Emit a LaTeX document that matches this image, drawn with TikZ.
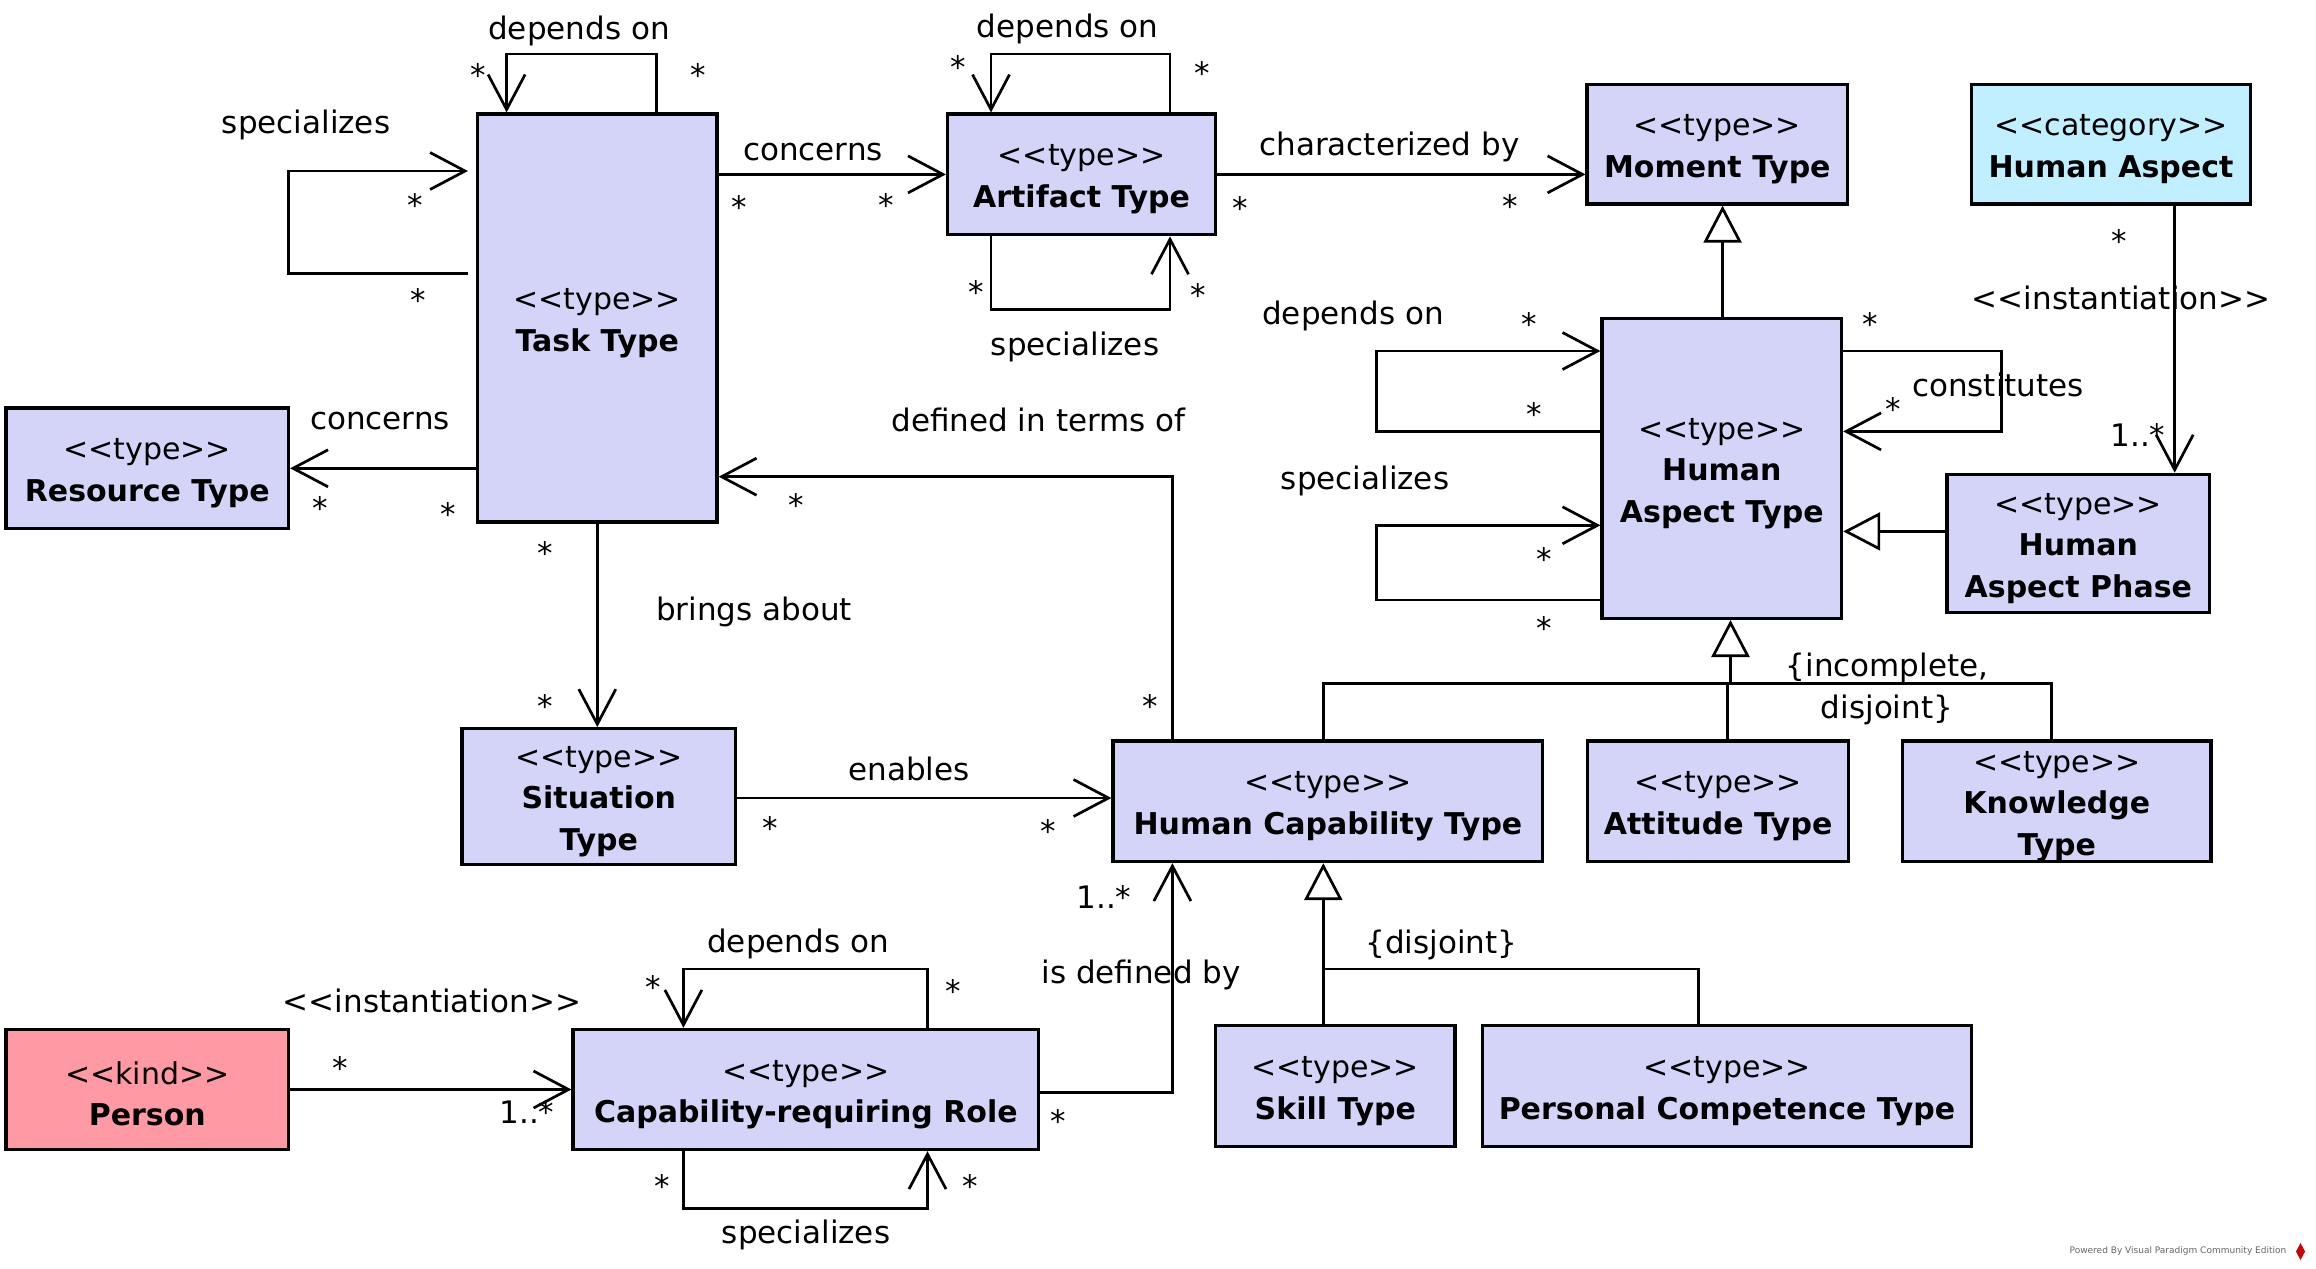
\documentclass[tikz,border=0pt]{standalone}
\usepackage{fontspec}
\setmainfont{DejaVu Sans}
\usetikzlibrary{arrows.meta,calc}
\definecolor{typefill}{RGB}{212,212,248}
\definecolor{kindfill}{RGB}{255,154,164}
\definecolor{catfill}{RGB}{192,240,255}
\newcommand\boxfont{\fontsize{30}{41.5}\selectfont}
\newcommand\lblfont{\fontsize{31}{38}\selectfont}
\newcommand\stereo[1]{<\kern0pt<#1>\kern0pt>}
\newcommand\boxst[1]{\rule{0pt}{31pt}\stereo{#1}}
\begin{document}
\begin{tikzpicture}[x=1pt,y=-1pt,
  box/.style={draw, line width=3.2pt, fill=typefill, inner sep=0pt, align=center, font=\boxfont},
  lbl/.style={inner sep=0pt, font=\lblfont},
  mult/.style={lbl, yshift=-6pt},
  twolines/.style={lbl, align=center, font=\fontsize{31}{42}\selectfont},
  assoc/.style={line width=2.7pt, -{Straight Barb[length=35pt, width=37pt]}},
  plain/.style={line width=2.7pt},
  gen/.style={line width=2.7pt, -{Triangle[open, length=37pt, width=38pt, fill=white]}},
]
\useasboundingbox (0,0) rectangle (2316,1269);
\fill[white] (0,0) rectangle (2316,1269);

% ---------- boxes ----------
\node[box, minimum width=239.5pt, minimum height=408pt] (task) at (597.3,318) {\boxst{type}\\\textbf{Task Type}};
\node[box, minimum width=268pt, minimum height=120.7pt] (artifact) at (1081.5,174.4) {\boxst{type}\\\textbf{Artifact Type}};
\node[box, minimum width=260.5pt, minimum height=119.5pt] (moment) at (1717.3,144.3) {\boxst{type}\\\textbf{Moment Type}};
\node[box, fill=catfill, minimum width=278.8pt, minimum height=119.5pt] (haspect) at (2111,144.3) {\boxst{category}\\\textbf{Human Aspect}};
\node[box, minimum width=282.5pt, minimum height=120.6pt] (resource) at (147.3,468.3) {\boxst{type}\\\textbf{Resource Type}};
\node[box, minimum width=239.6pt, minimum height=300pt] (hat) at (1721.8,468.4) {\boxst{type}\\\textbf{Human}\\\textbf{Aspect Type}};
\node[box, minimum width=262.6pt, minimum height=138pt] (hap) at (2078.3,543.3) {\boxst{type}\\\textbf{Human}\\\textbf{Aspect Phase}};
\node[box, minimum width=273.5pt, minimum height=135.7pt] (situation) at (598.8,796.5) {\boxst{type}\\\textbf{Situation}\\\textbf{Type}};
\node[box, minimum width=429.8pt, minimum height=120.5pt] (hct) at (1327.9,801.3) {\boxst{type}\\\textbf{Human Capability Type}};
\node[box, minimum width=260.6pt, minimum height=120.5pt] (attitude) at (1718.1,801.3) {\boxst{type}\\\textbf{Attitude Type}};
\node[box, minimum width=308.4pt, minimum height=120.5pt] (knowledge) at (2056.8,801.3) {\boxst{type}\\\textbf{Knowledge}\\\textbf{Type}};
\node[box, fill=kindfill, minimum width=282.5pt, minimum height=120.2pt] (person) at (147.3,1089.5) {\boxst{kind}\\\textbf{Person}};
\node[box, minimum width=465.5pt, minimum height=120.2pt] (role) at (805.8,1089.5) {\boxst{type}\\\textbf{Capability-requiring Role}};
\node[box, minimum width=239.5pt, minimum height=121.5pt] (skill) at (1335.3,1086) {\boxst{type}\\\textbf{Skill Type}};
\node[box, minimum width=489.4pt, minimum height=121.5pt] (pct) at (1727,1086) {\boxst{type}\\\textbf{Personal Competence Type}};

% ---------- connectors ----------
% Task depends on
\draw[assoc] (task.north -| 656.6,0) |- (506.6,54) -- (task.north -| 506.6,0);
% Task specializes
\draw[assoc] ($(task.west |- 0,273.5)+(-8,0)$) -- (288.5,273.5) -- (288.5,171) -- ($(task.west |- 0,171)+(-8,0)$);
% Task concerns Artifact
\draw[assoc] (task.east |- artifact.west) -- (artifact.west);
% Artifact depends on
\draw[assoc] (artifact.north -| 1170,0) |- (991,54) -- (artifact.north -| 991,0);
% Artifact specializes
\draw[assoc] (artifact.south -| 991,0) |- (1170,309.4) -- (artifact.south -| 1170,0);
% characterized by
\draw[assoc] (artifact.east) -- (moment.west |- artifact.east);
% Task concerns Resource
\draw[assoc] (task.west |- resource.east) -- (resource.east);
% defined in terms of
\draw[assoc] (hct.north -| 1172.4,0) |- (task.east |- 0,476.7);
% brings about
\draw[assoc] (task.south) -- (task.south |- situation.north);
% enables
\draw[assoc] (situation.east |- 0,798) -- (hct.west |- 0,798);
% is defined by
\draw[assoc] (role.east |- 0,1092.5) -| (hct.south -| 1172.4,0);
% Role depends on
\draw[assoc] (role.north -| 927.5,0) |- (683.4,969) -- (role.north -| 683.4,0);
% Role specializes
\draw[assoc] (role.south -| 683.4,0) |- (927.5,1208.7) -- (role.south -| 927.5,0);
% Person instantiation
\draw[assoc] (person.east) -- (role.west);
% Human Aspect instantiation
\draw[assoc] (haspect.south -| 2174.7,0) -- (hap.north -| 2174.7,0);
% HAT depends on
\draw[assoc] (hat.west |- 0,431.4) -- (1376.8,431.4) -- (1376.8,351) -- (hat.west |- 0,351);
% HAT specializes
\draw[assoc] (hat.west |- 0,600) -- (1376.8,600) -- (1376.8,525.3) -- (hat.west |- 0,525.3);
% HAT constitutes
\draw[assoc] (hat.east |- 0,351) -- (2001.4,351) -- (2001.4,431.4) -- (hat.east |- 0,431.4);
% generalizations
\draw[gen] (hat.north -| 1722.6,0) -- (moment.south -| 1722.6,0);
\draw[gen] (hap.west |- 0,531.4) -- (hat.east |- 0,531.4);
\coordinate (gs1) at (1730.5,683.8);
\draw[plain] (hct.north -| 1323.3,0) -- (1323.3,683.8) -- (2051.5,683.8) -- (knowledge.north -| 2051.5,0);
\draw[plain] (attitude.north -| 1727.4,0) -- (1727.4,683.8);
\draw[gen] (gs1) -- (hat.south -| gs1);
\coordinate (gs2) at (1323.3,969);
\draw[plain] (skill.north -| gs2) -- (gs2) -| (pct.north -| 1698.7,0);
\draw[gen] (gs2) -- (hct.south -| gs2);

% ---------- labels ----------
\node[lbl] (t1) at (579,30.6) {depends on};
\node[mult] (m1) at (478,69) {*};
\node[mult] (m2) at (698,69) {*};
\node[lbl] (t2) at (306,124.5) {specializes};
\node[mult] (m3) at (415.5,199) {*};
\node[mult] (m4) at (418.6,294) {*};
\node[lbl] (t3) at (813,152) {concerns};
\node[mult] (m5) at (739,201) {*};
\node[mult] (m6) at (886,199) {*};
\node[lbl] (t4) at (1067.6,28.6) {depends on};
\node[mult] (m7) at (958,61) {*};
\node[mult] (m8) at (1202,66.5) {*};
\node[lbl] (t5) at (1075,347) {specializes};
\node[mult] (m9) at (976.5,285.7) {*};
\node[mult] (m10) at (1198,289) {*};
\node[lbl] (t6) at (1389.4,147) {characterized by};
\node[mult] (m11) at (1240.7,202) {*};
\node[mult] (m12) at (1510.6,200) {*};
\node[lbl] (t7) at (380,421) {concerns};
\node[mult] (m13) at (320,502) {*};
\node[mult] (m14) at (448.5,508) {*};
\node[lbl] (t8) at (1038.5,420) {defined in terms of};
\node[mult] (m15) at (796,499) {*};
\node[mult] (m16) at (1150,700) {*};
\node[lbl] (t9) at (754,612) {brings about};
\node[mult] (m17) at (545,547) {*};
\node[mult] (m18) at (545,700) {*};
\node[lbl] (t10) at (909,769) {enables};
\node[mult] (m19) at (770,821.5) {*};
\node[mult] (m20) at (1048.5,824.8) {*};
\node[lbl] (t11) at (1141,975) {is defined by};
\node[lbl] (c1) at (1104,897) {1..*};
\node[mult] (m21) at (1058.4,1115) {*};
\node[lbl] (t12) at (798,943.8) {depends on};
\node[mult] (m22) at (652.8,981.3) {*};
\node[mult] (m23) at (952.8,984.6) {*};
\node[lbl] (t13) at (806,1235) {specializes};
\node[mult] (m24) at (662,1180) {*};
\node[mult] (m25) at (970,1180) {*};
\node[lbl] (t14) at (432,1001) {\stereo{instantiation}};
\node[mult] (m26) at (340.6,1062) {*};
\node[lbl] (c2) at (527,1112) {1..*};
\node[lbl] (t15) at (2121,298) {\stereo{instantiation}};
\node[mult] (m27) at (2119,234.7) {*};
\node[lbl] (c3) at (2138,434.5) {1..*};
\node[lbl] (t16) at (1353,315.5) {depends on};
\node[mult] (m28) at (1529,318.4) {*};
\node[mult] (m29) at (1534.4,408) {*};
\node[lbl] (t17) at (1365,481) {specializes};
\node[mult] (m30) at (1544,553) {*};
\node[mult] (m31) at (1544,622.4) {*};
\node[lbl] (t18) at (1998,385) {constitutes};
\node[mult] (m32) at (1870,318.4) {*};
\node[mult] (m33) at (1893.6,403.3) {*};
\node[twolines] (t19) at (1887,689) {\{incomplete,\\disjoint\}};
\node[lbl] (t20) at (1441.5,945) {\{disjoint\}};

% ---------- watermark ----------
\node[inner sep=0pt, font=\fontsize{9}{10}\selectfont, text=black!60] (wm) at (2178,1251.5) {Powered By Visual Paradigm Community Edition};
\fill[red!80!black] (2300.5,1243) -- (2305,1251.5) -- (2300.5,1260) -- (2296,1251.5) -- cycle;
\end{tikzpicture}
\end{document}
